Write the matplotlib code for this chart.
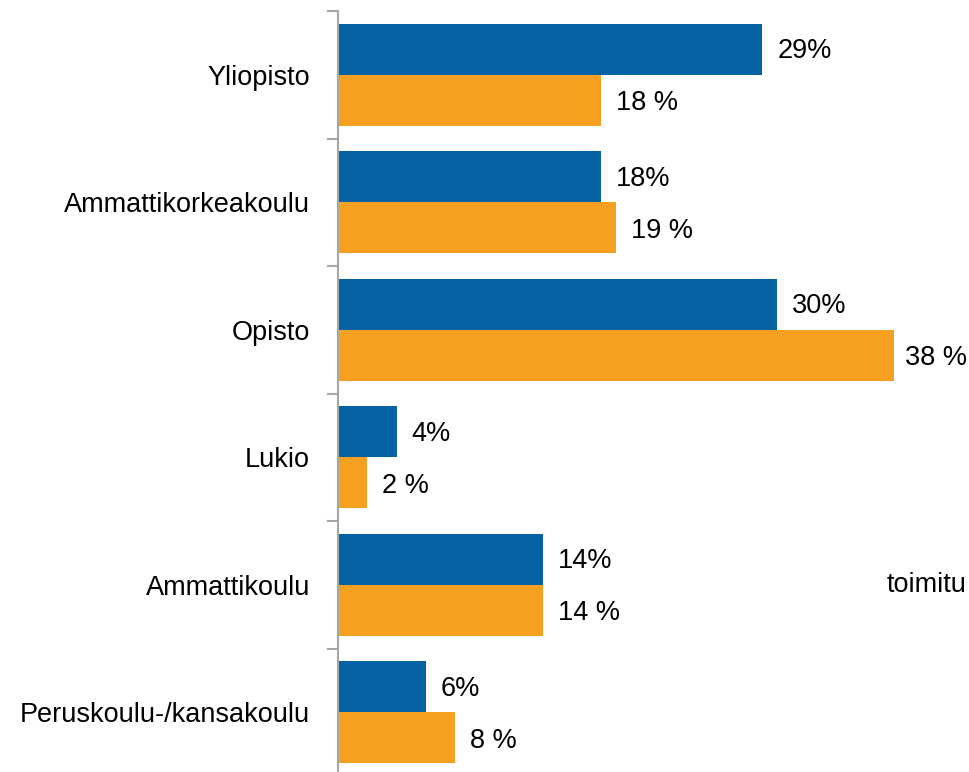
import matplotlib
matplotlib.use("Agg")
import matplotlib.pyplot as plt
import numpy as np

plt.rcParams['font.family'] = ['Liberation Sans', 'DejaVu Sans']

categories = ["Yliopisto", "Ammattikorkeakoulu", "Opisto", "Lukio",
              "Ammattikoulu", "Peruskoulu-/kansakoulu"]
series_a = [29, 18, 30, 4, 14, 6]
series_b = [18, 19, 38, 2, 14, 8]
side_text = "toimitu"

BLUE = "#0563A5"
ORANGE = "#F6A022"
AXIS_GRAY = "#A6A6A6"

W, H, DPI = 969, 772, 100
fig = plt.figure(figsize=(W / DPI, H / DPI), dpi=DPI)

# axes: left edge at the vertical spine, categories stacked 127.5 px apart
left_px, top_px, bottom_px = 338, 11, 776
ax = fig.add_axes([left_px / W, (H - bottom_px) / H,
                   (W - left_px) / W, (bottom_px - top_px) / H])

y = np.arange(len(categories))
bh = 0.4
ax.barh(y - bh / 2, series_a, height=bh, color=BLUE, edgecolor="none")
ax.barh(y + bh / 2, series_b, height=bh, color=ORANGE, edgecolor="none")

ax.set_xlim(0, (W - left_px) / 14.63)
ax.set_ylim(len(categories) - 0.5, -0.5)

fs = 19.5
labels = []
for yi, v in zip(y, series_a):
    labels.append(ax.annotate(f"{v}%", (v, yi - bh / 2), xytext=(15, -2),
                              textcoords="offset pixels", va="center",
                              ha="left", fontsize=fs, color="black",
                              annotation_clip=False))
for yi, v in zip(y, series_b):
    labels.append(ax.annotate(f"{v} %", (v, yi + bh / 2), xytext=(15, -3),
                              textcoords="offset pixels", va="center",
                              ha="left", fontsize=fs, color="black",
                              annotation_clip=False))

# category labels at centers, tick marks at group boundaries
ax.set_yticks(y)
ax.set_yticklabels(categories, fontsize=fs)
ax.tick_params(axis="y", which="major", length=0, pad=20)
ax.set_yticks(np.arange(-0.5, len(categories), 1.0), minor=True)
ax.tick_params(axis="y", which="minor", length=8, width=1.5,
               color=AXIS_GRAY, direction="out")

ax.set_xticks([])
for s in ["top", "right", "bottom"]:
    ax.spines[s].set_visible(False)
ax.spines["left"].set_color(AXIS_GRAY)
ax.spines["left"].set_linewidth(1.5)

fig.text(887 / W, 1 - 585 / H, side_text, fontsize=fs,
         ha="left", va="center", color="black")

# keep value labels inside the figure's right edge
fig.canvas.draw()
renderer = fig.canvas.get_renderer()
for t in labels:
    bb = t.get_window_extent(renderer)
    over = bb.x1 - (W - 2)
    if over > 0:
        dx, dy = t.xyann
        t.xyann = (dx - over, dy)

fig.savefig("out.png", dpi=DPI, facecolor="white")
